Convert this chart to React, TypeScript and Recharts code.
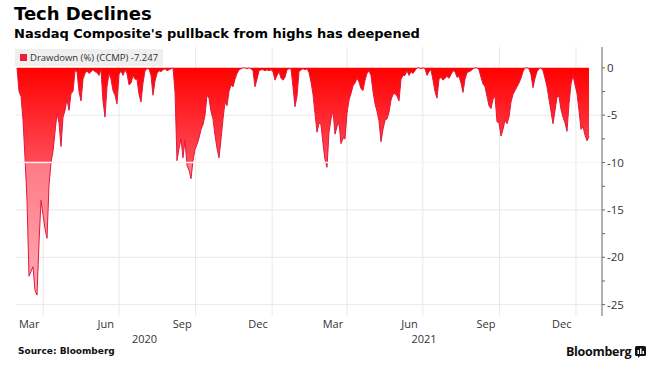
import React from "react";
import {
  AreaChart,
  Area,
  XAxis,
  YAxis,
  CartesianGrid,
  ReferenceLine,
} from "recharts";

const DAY = 86400000;

// first reading and spacing between readings (calendar days)
const startDate = Date.UTC(2020, 1, 29, 10);
const stepDays = 2.403;

// Nasdaq Composite drawdown from highs, %
const drawdown = [
  0, -2.5, -3.0, -5.5, -9.5, -14, -22, -21.5, -21, -23.5,
  -24, -18.5, -14, -15.5, -17, -18, -12.4, -10, -8.8, -6.8,
  -4.8, -5.8, -8.3, -5.2, -4.5, -3.3, -4.5, -2.7, -2.5, -0.3,
  -0.4, -2.5, -3.5, -1.2, -0.6, -0.3, -0.6, -0.4, -0.2, -0.4,
  -0.5, -0.8, -0.2, -3.5, -5.2, -2.0, -0.6, -1.2, -2.4, -2.9,
  -3.8, -0.7, -0.3, -0.8, -0.2, -0.6, -1.8, -1.6, -0.8, -1.2,
  -1.2, -2.8, -3.6, -1.6, -0.3, -0.1, -0.1, -0.8, -2.9, -1.4,
  -0.6, -0.3, -0.4, -0.2, -0.1, -0.3, -0.2, -0.1, 0, -2.5,
  -9.8, -8.5, -7.5, -9.5, -7.6, -10.3, -10.8, -11.7, -9.8, -8.6,
  -8.1, -7.4, -6.5, -6.0, -5.0, -2.9, -3.2, -4.6, -5.4, -7.1,
  -8.5, -9.5, -7.5, -5.4, -3.6, -4.0, -2.5, -1.8, -2.0, -1.2,
  -0.6, -0.2, -0.1, 0, 0, -0.1, 0, -0.1, -0.3, -2.0,
  -1.2, -0.3, -0.2, -0.2, -0.3, -0.2, -0.3, -0.2, -0.4, -1.3,
  -0.8, -0.4, -1.1, -1.3, -1.0, -0.2, -0.1, -0.1, -2.0, -4.1,
  -3.0, -0.4, -0.2, -0.1, -0.2, -0.1, -0.5, -1.5, -2.8, -4.8,
  -6.8, -5.8, -6.0, -8.0, -9.7, -10.5, -6.8, -5.4, -4.5, -7.0,
  -6.2, -5.8, -8.0, -7.4, -7.5, -4.8, -3.4, -2.7, -1.9, -1.6,
  -1.1, -1.5, -2.2, -2.4, -1.3, -0.6, -0.3, -0.8, -2.5, -3.8,
  -4.6, -5.6, -7.8, -6.5, -5.5, -5.4, -4.7, -3.4, -2.8, -2.7,
  -3.0, -3.5, -1.2, -0.8, -0.8, -0.3, -0.8, -0.4, -0.6, -0.3,
  0, 0, -0.1, 0, -0.1, -0.8, -0.4, -0.2, -1.3, -2.5,
  -3.2, -1.2, -1.0, -1.3, -1.1, -0.9, -1.1, -0.7, -0.3, -0.4,
  -1.0, -0.9, -1.6, -2.6, -1.2, -0.5, -0.4, -0.3, -0.1, 0,
  0, -0.2, -1.0, -1.7, -2.0, -3.0, -4.0, -4.3, -3.3, -3.0,
  -5.7, -5.8, -7.2, -6.5, -5.5, -5.9, -5.2, -3.6, -2.8, -2.4,
  -2.0, -1.6, -1.1, -0.4, 0, 0, -0.1, -0.7, -2.1, -1.1,
  -0.4, -0.1, 0, -0.3, -1.1, -2.0, -3.3, -4.6, -5.9, -4.5,
  -3.1, -3.0, -4.4, -5.2, -5.8, -6.7, -3.8, -1.7, -0.8, -1.8,
  -2.7, -4.5, -6.5, -6.2, -7.1, -7.7, -7.247,
];

const monthTicks = [
  Date.UTC(2020, 2, 15), Date.UTC(2020, 5, 15), Date.UTC(2020, 8, 15), Date.UTC(2020, 11, 15),
  Date.UTC(2021, 2, 15), Date.UTC(2021, 5, 15), Date.UTC(2021, 8, 15), Date.UTC(2021, 11, 15),
];
const monthLabels = ["Mar", "Jun", "Sep", "Dec", "Mar", "Jun", "Sep", "Dec"];

const quarterStarts = [
  Date.UTC(2020, 3, 1), Date.UTC(2020, 6, 1), Date.UTC(2020, 9, 1), Date.UTC(2021, 0, 1),
  Date.UTC(2021, 3, 1), Date.UTC(2021, 6, 1), Date.UTC(2021, 9, 1), Date.UTC(2022, 0, 1),
];

const years = ["2020", "2021"];
const yearTicks = [
  (startDate + Date.UTC(2021, 0, 1)) / 2,
  (Date.UTC(2021, 0, 1) + Date.UTC(2022, 0, 1)) / 2,
];

const yTicks = [0, -2.5, -5, -7.5, -10, -12.5, -15, -17.5, -20, -22.5, -25];
const gridLevels = [-5, -15, -20, -25];

const legendLabel = "Drawdown (%) (CCMP) -7.247";

const data = drawdown.map((v, i) => ({ t: startDate + i * stepDays * DAY, v }));

const xDomain = [Date.UTC(2020, 1, 28, 5), Date.UTC(2022, 1, 1, 7)];

const tickFont = "'Open Sans', 'Noto Sans', sans-serif";

function XTick({ x, y, payload }: any) {
  const yi = yearTicks.indexOf(payload.value);
  if (yi >= 0) {
    return (
      <text x={x} y={y + 27} textAnchor="middle" fontSize={11} fill="#333" fontFamily={tickFont}>
        {years[yi]}
      </text>
    );
  }
  const mi = monthTicks.indexOf(payload.value);
  return (
    <text x={x} y={y + 12} textAnchor="middle" fontSize={11} fill="#333" fontFamily={tickFont}>
      {monthLabels[mi]}
    </text>
  );
}

function YTick({ x, y, payload }: any) {
  if (payload.value % 5 !== 0) return null;
  return (
    <text x={x} y={y + 4} textAnchor="start" fontSize={11.5} fill="#333" fontFamily={tickFont}>
      {payload.value}
    </text>
  );
}

export default function App() {
  return (
    <div
      style={{
        position: "absolute",
        left: 0,
        top: 0,
        width: 655,
        height: 367,
        background: "#fff",
        overflow: "hidden",
      }}
    >
      <div
        style={{
          position: "absolute",
          left: 14,
          top: 3,
          fontFamily: "'DejaVu Sans', sans-serif",
          fontWeight: 700,
          fontSize: 18,
          color: "#000",
          whiteSpace: "nowrap",
        }}
      >
        Tech Declines
      </div>
      <div
        style={{
          position: "absolute",
          left: 14,
          top: 26,
          fontFamily: "'DejaVu Sans', sans-serif",
          fontWeight: 700,
          fontSize: 13,
          color: "#000",
          whiteSpace: "nowrap",
        }}
      >
        Nasdaq Composite's pullback from highs has deepened
      </div>

      <div style={{ position: "absolute", left: 0, top: 0 }}>
        <AreaChart
          width={655}
          height={367}
          data={data}
          margin={{ top: 47, right: 8, left: 16, bottom: 21 }}
        >
          <defs>
            <linearGradient id="ddFill" x1="0" y1="0" x2="0" y2="1">
              <stop offset="0" stopColor="#ff0000" />
              <stop offset="0.41" stopColor="#ff4a56" />
              <stop offset="0.425" stopColor="#ff7a85" />
              <stop offset="1" stopColor="#ffaab4" />
            </linearGradient>
          </defs>
          <CartesianGrid
            stroke="#e8e8e8"
            horizontalValues={gridLevels}
            verticalValues={quarterStarts}
          />
          <XAxis
            dataKey="t"
            type="number"
            scale="time"
            domain={xDomain}
            allowDataOverflow
            ticks={[...monthTicks, ...yearTicks]}
            interval={0}
            tick={<XTick />}
            axisLine={false}
            tickLine={false}
            tickSize={0}
            tickMargin={0}
            height={30}
          />
          <YAxis
            orientation="right"
            type="number"
            domain={[-26.2, 2.2]}
            allowDataOverflow
            ticks={yTicks}
            interval={0}
            tick={<YTick />}
            axisLine={{ stroke: "#666" }}
            tickLine={{ stroke: "#666" }}
            tickSize={3}
            tickMargin={2}
            width={45}
          />
          <Area
            type="linear"
            dataKey="v"
            baseValue={0}
            stroke="#e3183c"
            strokeWidth={1}
            fill="url(#ddFill)"
            fillOpacity={1}
            dot={false}
            activeDot={false}
            isAnimationActive={false}
          />
          <ReferenceLine y={-10} stroke="#fff2f2" strokeWidth={1.5} />
        </AreaChart>
      </div>

      <div
        style={{
          position: "absolute",
          left: 15,
          top: 49,
          width: 148,
          height: 17,
          background: "#efefef",
          display: "flex",
          alignItems: "center",
          fontFamily: tickFont,
          fontSize: 9.5,
          color: "#333",
          whiteSpace: "nowrap",
        }}
      >
        <span
          style={{
            display: "inline-block",
            width: 7,
            height: 7,
            background: "#e8203c",
            marginLeft: 5,
            marginRight: 3,
          }}
        />
        {legendLabel}
      </div>

      <div
        style={{
          position: "absolute",
          left: 18,
          top: 346,
          fontFamily: "'DejaVu Sans', sans-serif",
          fontWeight: 700,
          fontSize: 9,
          color: "#111",
        }}
      >
        Source: Bloomberg
      </div>
      <div
        style={{
          position: "absolute",
          left: 566,
          top: 343,
          display: "flex",
          alignItems: "center",
          fontFamily: "'Open Sans', sans-serif",
          fontWeight: 700,
          fontSize: 12.5,
          color: "#111",
          letterSpacing: -0.3,
        }}
      >
        Bloomberg
        <svg width={11} height={12} style={{ marginLeft: 4 }}>
          <rect x={0} y={0} width={11} height={10} rx={1.5} fill="#111" />
          <rect x={2.5} y={4} width={1.5} height={4} fill="#fff" />
          <rect x={5} y={2.5} width={1.5} height={5.5} fill="#fff" />
          <rect x={7.5} y={5} width={1.5} height={3} fill="#fff" />
          <path d="M3 10 L3 12 L5 10 Z" fill="#111" />
        </svg>
      </div>
    </div>
  );
}
